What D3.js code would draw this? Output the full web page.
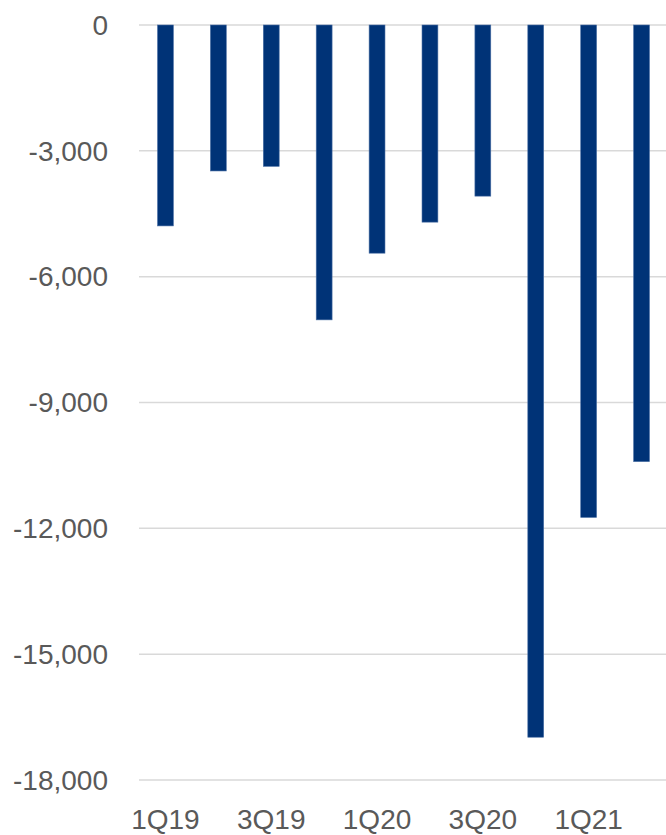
<!DOCTYPE html>
<html><head><meta charset="utf-8">
<script src="https://cdn.jsdelivr.net/npm/d3@7"></script>
<style>body{margin:0;background:#fff}</style>
</head><body>
<svg id="c" width="666" height="835"></svg>
<script>
const categories = ["1Q19","2Q19","3Q19","4Q19","1Q20","2Q20","3Q20","4Q20","1Q21","2Q21"];
const values = [-4790,-3480,-3370,-7030,-5440,-4700,-4080,-16980,-11740,-10410];
const yTicks = [0,-3000,-6000,-9000,-12000,-15000,-18000];
const xLabels = ["1Q19","3Q19","1Q20","3Q20","1Q21"];

(function(){
const svg = d3.select("#c");
const mLeft = 139, mRight = 668, mTop = 25, mBottom = 780;
const x = d3.scaleBand().domain(categories).range([mLeft, mRight]).paddingInner(0.7).paddingOuter(0.35);
const y = d3.scaleLinear().domain([0, -18000]).range([mTop, mBottom]);
const font = "'Liberation Sans', Arial, sans-serif";
const fmt = d3.formatLocale({decimal: ".", thousands: ",", grouping: [3], currency: ["", ""], minus: "-"}).format(",");

// gridlines
svg.append("g").selectAll("line").data(yTicks).join("line")
  .attr("x1", mLeft).attr("x2", 666)
  .attr("y1", d => y(d)).attr("y2", d => y(d))
  .attr("stroke", "#d9d9d9").attr("stroke-width", 1.5);

// y axis
const yAxis = svg.append("g").attr("transform", `translate(${mLeft},0)`)
  .call(d3.axisLeft(y).tickValues(yTicks).tickSize(0).tickPadding(31).tickFormat(fmt));
yAxis.select(".domain").remove();
yAxis.selectAll("text").attr("font-family", font).attr("font-size", 28).attr("fill", "#595959").attr("dy", "0.33em");

// bars
svg.append("g").selectAll("rect").data(values).join("rect")
  .attr("x", (d, i) => x(categories[i]))
  .attr("width", x.bandwidth())
  .attr("y", y(0))
  .attr("height", d => y(d) - y(0))
  .attr("fill", "#003377")
  .attr("stroke", "#4a6fa5").attr("stroke-width", 0.6);

// x labels
svg.append("g").selectAll("text").data(xLabels).join("text")
  .attr("x", d => x(d) + x.bandwidth() / 2)
  .attr("y", 829)
  .attr("text-anchor", "middle")
  .attr("font-family", font).attr("font-size", 28).attr("fill", "#595959")
  .text(d => d);
})();
</script>
</body></html>
